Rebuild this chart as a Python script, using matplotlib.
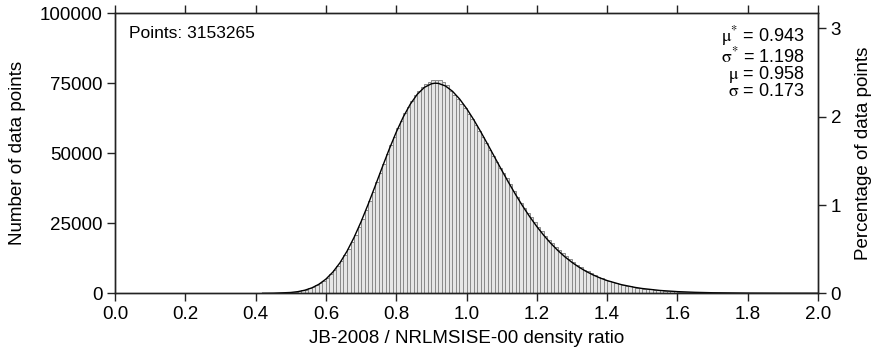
"""Histogram of JB-2008 / NRLMSISE-00 density ratio with log-normal fit."""
import numpy as np
import matplotlib
matplotlib.use('Agg')
import matplotlib.pyplot as plt

plt.rcParams['font.family'] = ['Liberation Sans', 'DejaVu Sans']
plt.rcParams['mathtext.fontset'] = 'stix'

n_points = 3153265
first_bin = 0.40
bin_width = 0.01

# counts per 0.01-wide bin, starting at 0.40
counts = [
    5, 8, 12, 20, 32, 55, 85, 130, 200, 290,
    410, 570, 770, 1030, 1350, 1760, 2260, 2870, 3620, 4520,
    5560, 6780, 8200, 9800, 11600, 13600, 15900, 18300, 20900, 23700,
    26600, 29700, 32900, 36200, 39600, 43000, 46300, 49600, 52800, 55900,
    58900, 61700, 64300, 66700, 68800, 70700, 72300, 73700, 74800, 75600,
    76100, 76200, 76000, 75400, 74300, 72400, 70900, 69300, 67700, 66000,
    64100, 62100, 60000, 57900, 55700, 53500, 51200, 49000, 46800, 44700,
    42900, 41200, 39000, 36600, 34300, 32300, 30500, 28800, 27100, 25400,
    23700, 22100, 20600, 19200, 17900, 16700, 15500, 14300, 13200, 12100,
    11100, 10200, 9300, 8500, 7800, 7100, 6500, 5900, 5400, 4900,
    4450, 4050, 3680, 3350, 3050, 2770, 2510, 2280, 2060, 1870,
    1690, 1530, 1380, 1250, 1120, 1010, 910, 815, 730, 655,
    585, 525, 470, 420, 375, 335, 300, 268, 240, 214,
    191, 171, 153, 136, 121, 108, 96, 85, 76, 67,
    60, 53, 47, 42, 37, 33, 29, 26, 23, 20,
]

# fitted log-normal curve (counts per bin)
fit_x = [0.42, 0.45, 0.50, 0.52, 0.54, 0.56, 0.58, 0.60, 0.62, 0.64,
         0.66, 0.68, 0.70, 0.72, 0.74, 0.76, 0.78, 0.80, 0.82, 0.84, 0.86,
         0.88, 0.90, 0.91, 0.92, 0.94, 0.96, 0.98, 1.00, 1.02, 1.04, 1.06,
         1.08, 1.10, 1.12, 1.14, 1.16, 1.18, 1.20, 1.22, 1.24, 1.26, 1.28,
         1.30, 1.32, 1.34, 1.36, 1.38, 1.40, 1.44, 1.48, 1.50, 1.55, 1.60,
         1.65, 1.70, 1.80, 1.90, 2.00]
fit_y = [6, 35, 293, 589, 1105, 1943, 3224, 5072, 7602, 10901,
         15012, 19920, 25535, 31717, 38255, 44912, 51421, 57516, 62953, 67529, 71084,
         73526, 74815, 75030, 74968, 74049, 72163, 69443, 66038, 62106, 57798, 53261,
         48629, 44008, 39508, 35189, 31115, 27323, 23836, 20664, 17811, 15268, 13019,
         11049, 9331, 7843, 6569, 5477, 4552, 3108, 2096, 1714, 1024, 602,
         349, 201, 64, 20, 6]

stats_text = ('$\\mathrm{\\mu}^{*}$ = 0.943\n$\\mathrm{\\sigma}^{*}$ = 1.198\n'
              '$\\mathrm{\\mu}$ = 0.958\n$\\mathrm{\\sigma}$ = 0.173')

bin_left = first_bin + bin_width * np.arange(len(counts))

fig = plt.figure(figsize=(8.75, 3.63), dpi=100)
ax = fig.add_axes([0.1314, 0.192, 0.8035, 0.7714])

ax.bar(bin_left, counts, width=bin_width, align='edge',
       facecolor='#e6e6e6', edgecolor='#8a8a8a', linewidth=0.7)
ax.plot(fit_x, fit_y, color='black', linewidth=1.0)

ax.set_xlim(0, 2)
ax.set_ylim(0, 100000)
ax.set_xticks(np.arange(0, 2.01, 0.2))
ax.set_xticklabels([f'{v:.1f}' for v in np.arange(0, 2.01, 0.2)])
ax.set_yticks([0, 25000, 50000, 75000, 100000])
ax.set_yticklabels(['0', '25000', '50000', '75000', '100000'])
ax.tick_params(direction='out', length=6, width=1, labelsize=13.5,
               top=True, colors='#222222', labelcolor='black', pad=3)
ax.set_xlabel('JB-2008 / NRLMSISE-00 density ratio', fontsize=13.5, labelpad=5)
ax.set_ylabel('Number of data points', fontsize=13.5, labelpad=10)

ax2 = ax.twinx()
ax2.set_ylim(0, 100000 / n_points * 100)
ax2.set_yticks([0, 1, 2, 3])
ax2.tick_params(direction='out', length=6, width=1, labelsize=13.5,
                colors='#222222', labelcolor='black', pad=3)
ax2.set_ylabel('Percentage of data points', fontsize=13.5, labelpad=10)

for a in (ax, ax2):
    for s in a.spines.values():
        s.set_linewidth(1.0)
        s.set_color('#222222')

ax.text(0.02, 0.955, f'Points: {n_points}', transform=ax.transAxes,
        ha='left', va='top', fontsize=12.5)
ax.text(0.981, 0.96, stats_text, transform=ax.transAxes, ha='right',
        va='top', fontsize=13, linespacing=0.85, multialignment='right')

fig.savefig('out.png', dpi=100)
